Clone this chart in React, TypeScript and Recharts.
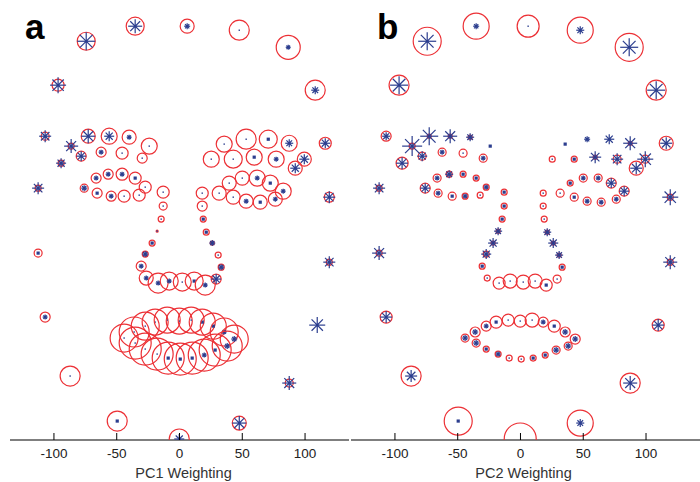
import { ScatterChart, Scatter, XAxis, YAxis } from 'recharts'

// landmark positions of the mean face (same for both panels)
// order: outline (20), left brow (10), left eye (10), right brow (10),
// right eye (10), nose (21), mouth (20)
const faceX = [
  -74.3, -35.3, 6.1, 47.6, 86.6, 108.1, 116.1, 119.3, 119.3, 109.7,
  87.4, 47.6, -0.2, -49.6, -87.1, -107.0, -112.6, -112.6, -107.0, -96.7,
  -86.3, -72.7, -56.0, -40.1, -24.1, -29.7, -45.7, -62.4, -78.3, -94.3,
  -66.4, -56.8, -45.7, -35.3, -27.3, -32.1, -44.1, -54.4, -65.6, -75.9,
  25.3, 35.6, 53.1, 70.7, 87.4, 99.4, 92.2, 77.0, 59.5, 42.8,
  31.6, 39.6, 50.0, 61.9, 72.3, 82.6, 76.3, 64.3, 53.1, 42.8,
  -13.0, -13.0, -14.6, -17.8, -21.8, -27.3, -30.5, -26.5, -17.0, -8.2, 2.2,
  11.7, 20.5, 29.2, 33.2, 30.8, 26.1, 21.3, 18.9, 18.1, 18.1,
  -44.1, -36.1, -27.3, -19.4, -9.8, -0.2, 9.3, 18.1, 26.9, 35.6, 43.6,
  38.0, 28.4, 19.7, 10.1, 0.6, -9.0, -17.8, -27.3, -35.3,
]

const faceY = [
  317.9, 329.9, 329.9, 326.7, 313.1, 278.9, 236.6, 193.6, 141.8, 91.6,
  45.4, 13.5, 0.8, 15.1, 51.0, 98.0, 149.0, 200.8, 242.2, 282.9,
  234.3, 242.2, 242.2, 241.4, 234.3, 224.7, 228.7, 229.5, 226.3, 220.7,
  208.8, 211.9, 211.9, 208.8, 201.6, 195.2, 194.4, 194.4, 196.8, 200.8,
  223.9, 235.9, 239.8, 239.8, 236.6, 223.9, 216.7, 223.9, 225.5, 223.9,
  196.8, 204.8, 208.8, 208.8, 204.8, 198.4, 192.0, 189.6, 190.4, 193.6,
  197.6, 186.5, 176.1, 166.5, 157.0, 148.2, 138.6, 129.1, 125.1, 126.7, 125.9,
  126.7, 123.5, 128.3, 137.8, 147.4, 157.0, 165.7, 176.1, 186.5, 196.8,
  81.3, 86.1, 90.8, 94.0, 95.6, 94.8, 95.6, 94.0, 90.8, 86.1, 80.5,
  74.9, 71.7, 67.7, 65.3, 64.5, 65.3, 68.5, 72.5, 77.3,
]

// red ring magnitude and blue star magnitude per landmark
const pc1Ring = [
  9, 9, 7, 10, 12, 10, 6, 5, 3, 0, 4, 7, 10, 10, 10, 5, 4, 3, 4, 6,
  3, 7, 8, 7, 8, 5, 6, 5, 5, 3,
  5, 5, 6, 6, 6, 6, 6, 5, 5, 4,
  8, 8, 10, 9, 8, 7, 7, 8, 8, 9,
  7, 7, 7, 8, 8, 8, 7, 7, 7, 7,
  6, 4, 3, 1, 3, 3, 5, 7, 10, 9, 9, 9, 10, 5, 3, 3, 2, 3, 3, 5, 6,
  14, 15, 14, 13, 13, 13, 13, 13, 13, 14, 14,
  15, 16, 16, 16, 16, 16, 16, 16, 16,
]
const pc1Star = [
  9, 7, 3, 0.5, 2.5, 4, 5, 6, 6, 8, 7, 7, 5, 2, 0.5, 2.5, 2, 6, 6, 8,
  7, 7, 5, 2.5, 0.5, 0.5, 0.5, 2.5, 5, 5,
  2.5, 2.5, 2.5, 2, 0.5, 0.5, 0.5, 2.5, 2, 3,
  0.5, 0.5, 0.5, 2, 4, 5, 5, 2.5, 2, 0.5,
  0.5, 0.5, 0.5, 2.5, 2, 2.5, 2.5, 2, 2.5, 0.5,
  0.5, 0.5, 0.5, 0.5, 2, 3, 2.5, 2.5, 2.5, 2.5, 0.5, 2, 2.5, 5, 3, 0.5, 3, 2, 2, 0.5, 0.5,
  0.5, 0.5, 0.5, 0.5, 0.5, 0.5, 0.5, 2, 2, 2.5, 3,
  3, 2, 2.5, 2, 2, 2, 0.5, 0.5, 0.5,
]
const pc2Ring = [
  14, 13, 11, 13, 14, 10, 7, 3, 3, 6, 10, 13, 16, 14, 10, 6, 3, 3, 5, 10,
  3, 2, 2, 2, 0, 4, 4, 4, 4, 6,
  4, 3, 3, 3, 3, 3, 3, 4, 4, 5,
  3, 0, 0, 0, 2, 4, 7, 4, 2, 3,
  4, 3, 4, 4, 5, 5, 4, 4, 4, 4,
  3, 3, 3, 2, 2, 3, 3, 3, 6, 7, 7, 7, 6, 4, 3, 2, 2, 2, 3, 3, 3,
  4, 5, 5, 6, 6, 6, 7, 5, 6, 5, 5,
  4, 4, 3, 3, 3, 3, 3, 3, 4,
]
const pc2Star = [
  9, 3, 0.5, 4, 9, 9, 6, 8, 7, 6, 7, 4, 0, 2, 6, 6, 7, 6, 4, 9,
  10, 9, 7, 4, 2, 2.5, 0.5, 2.5, 5, 6,
  2.5, 4, 2, 2, 2.5, 0.5, 2.5, 2, 2.5, 5,
  0.5, 2, 3, 5, 7, 8, 6, 6, 6, 2,
  0.5, 2, 2.5, 2.5, 5, 5, 2.5, 2.5, 2.5, 2,
  2, 2, 2, 4, 5, 5, 2, 0.5, 0.5, 0.5, 0.5, 0.5, 2, 0.5, 2, 4, 5, 4, 0.5, 0.5, 0.5,
  3, 3, 2.5, 2, 0.5, 0.5, 0.5, 2.5, 2, 3, 3,
  3, 3, 2, 2, 0.5, 0.5, 2.5, 2, 3,
]

const xTicks = [-100, -50, 0, 50, 100]

const RED = '#ec3035'
const BLUE = '#2b3d8e'
const FONT = '"Liberation Sans", Arial, sans-serif'

function Landmark(props: any) {
  const { cx, cy, payload } = props
  const r = payload.ring
  const s = payload.star
  let mark = null
  if (s >= 2.5) {
    const d = s * 0.7071
    mark = (
      <g stroke={BLUE} strokeWidth={1.2}>
        <line x1={cx - s} y1={cy} x2={cx + s} y2={cy} />
        <line x1={cx} y1={cy - s} x2={cx} y2={cy + s} />
        <line x1={cx - d} y1={cy - d} x2={cx + d} y2={cy + d} />
        <line x1={cx - d} y1={cy + d} x2={cx + d} y2={cy - d} />
        <rect x={cx - 1.3} y={cy - 1.3} width={2.6} height={2.6} fill={BLUE} stroke="none" />
      </g>
    )
  } else if (s > 0) {
    const w = Math.max(1.4, s * 1.6)
    mark = <rect x={cx - w / 2} y={cy - w / 2} width={w} height={w} fill={BLUE} />
  }
  return (
    <g>
      {r > 0 && <circle cx={cx} cy={cy} r={r} fill="none" stroke={RED} strokeWidth={1.2} />}
      {mark}
    </g>
  )
}

function AxisTick(props: any) {
  const { x, y, payload } = props
  return (
    <g>
      <line x1={x} x2={x} y1={y} y2={y - 7} stroke="#000" />
      <text x={x} y={y + 18} textAnchor="middle" fontSize={13.5} fill="#222" fontFamily={FONT}>
        {payload.value}
      </text>
    </g>
  )
}

function Panel({ ring, star, title, max, width, dx }: any) {
  const data = faceX.map((x, i) => ({ x, y: faceY[i], ring: ring[i], star: star[i] }))
  return (
    <ScatterChart width={width} height={482} margin={{ top: 1, right: width === 350 ? 1 : 0, bottom: 0, left: 10 }}>
      <XAxis
        type="number"
        dataKey="x"
        domain={[-135, max]}
        allowDataOverflow
        ticks={xTicks}
        interval={0}
        height={42}
        tickSize={0}
        tickMargin={0}
        tickLine={false}
        tick={(p: any) => <AxisTick {...p} />}
        axisLine={{ stroke: '#000', strokeWidth: 1.2 }}
        label={{ value: title, position: 'insideBottom', offset: 4, dx, fontSize: 14.5, fill: '#333', fontFamily: FONT }}
      />
      <YAxis type="number" dataKey="y" domain={[0, 350]} allowDataOverflow hide />
      <Scatter data={data} isAnimationActive={false} shape={(p: any) => <Landmark {...p} />} />
    </ScatterChart>
  )
}

const letter = {
  position: 'absolute' as const,
  top: 8.7,
  fontSize: 35,
  lineHeight: '35px',
  fontWeight: 'bold' as const,
  fontFamily: FONT,
  color: '#000',
}

export default function App() {
  return (
    <div style={{ position: 'absolute', left: 0, top: 0, width: 700, height: 482, background: '#fff', overflow: 'hidden' }}>
      <div style={{ position: 'absolute', left: 0, top: 0 }}>
        <Panel ring={pc1Ring} star={pc1Star} title="PC1 Weighting" max={135} width={350} dx={4} />
      </div>
      <div style={{ position: 'absolute', left: 341, top: 0 }}>
        <Panel ring={pc2Ring} star={pc2Star} title="PC2 Weighting" max={143} width={359} dx={-2} />
      </div>
      <div style={{ ...letter, left: 25 }}>a</div>
      <div style={{ ...letter, left: 377 }}>b</div>
    </div>
  )
}
